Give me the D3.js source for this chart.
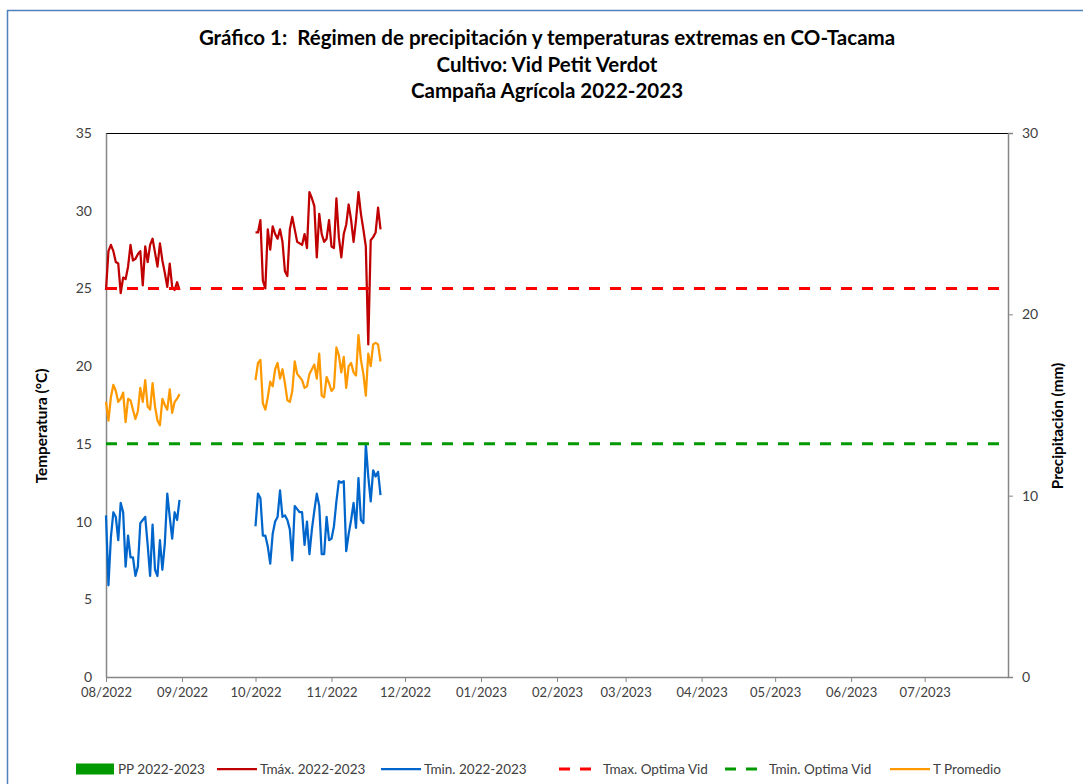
<!DOCTYPE html>
<html>
<head>
<meta charset="utf-8">
<script src="https://cdn.jsdelivr.net/npm/d3@7"></script>
<style>
  html, body { margin: 0; padding: 0; background: #ffffff; }
  svg { display: block; font-family: Lato, "Open Sans", sans-serif; }
  .title { white-space: pre; }
</style>
</head>
<body>
<svg id="chart" width="1083" height="784"></svg>
<script>
// ---------------- DATA ----------------
const chartTitle = [
  "Gráfico 1:  Régimen de precipitación y temperaturas extremas en CO-Tacama",
  "Cultivo: Vid Petit Verdot",
  "Campaña Agrícola 2022-2023"
];
const segmentStarts = ["2022-08-01", "2022-10-01"];

// Daily maximum temperature (°C)
const tmaxSeg1 = [24.9, 27.4, 27.8, 27.4, 26.7, 26.6, 24.7, 25.7, 25.6, 26.4, 27.8, 26.8, 26.9, 27.2, 27.4, 25.2,
  27.7, 26.7, 27.8, 28.2, 27.3, 26.4, 27.9, 26.8, 26.0, 25.1, 26.6, 25.1, 24.9, 25.4, 24.9];
const tmaxSeg2 = [28.6, 28.6, 29.4, 25.5, 25.0, 28.8, 27.5, 29.0, 28.5, 28.2, 28.8, 28.0, 26.1, 25.8, 28.8, 29.6,
  28.8, 28.0, 27.9, 27.8, 28.5, 27.6, 31.2, 30.8, 30.3, 27.0, 29.8, 28.5, 28.0, 28.2, 29.4, 27.7, 27.6, 30.8,
  28.3, 27.0, 28.5, 29.1, 30.4, 29.4, 28.0, 29.4, 31.2, 29.8, 28.8, 27.7, 21.4, 28.1, 28.3, 28.6, 30.2, 28.8];

// Daily minimum temperature (°C)
const tminSeg1 = [10.4, 5.9, 9.0, 10.6, 10.3, 8.8, 11.2, 10.6, 7.1, 9.1, 7.7, 7.7, 6.5, 7.1, 9.9, 10.1,
  10.3, 8.5, 6.5, 9.8, 6.9, 6.5, 8.8, 6.9, 8.6, 11.8, 10.3, 8.9, 10.6, 10.1, 11.4];
const tminSeg2 = [9.7, 11.8, 11.5, 9.1, 9.1, 8.4, 7.3, 9.2, 10.0, 10.3, 12.0, 10.3, 10.4, 10.1, 9.5, 7.5,
  11.0, 10.8, 10.6, 10.6, 8.5, 10.0, 7.9, 9.5, 10.7, 11.8, 11.0, 7.9, 7.9, 10.3, 8.8, 8.9, 9.7, 11.3,
  12.6, 12.5, 12.6, 8.1, 9.2, 10.1, 11.2, 9.6, 12.8, 10.1, 9.9, 15.0, 12.9, 11.3, 13.3, 12.9, 13.2, 11.7];

// Daily mean temperature (°C)
const tmeanSeg1 = [17.7, 16.5, 18.0, 18.8, 18.4, 17.7, 17.9, 18.3, 16.4, 17.9, 17.8, 17.2, 16.6, 17.1, 18.6, 17.7,
  19.1, 17.4, 17.2, 18.9, 17.4, 16.5, 16.2, 17.9, 17.5, 17.2, 18.5, 17.0, 17.7, 17.9, 18.2];
const tmeanSeg2 = [19.1, 20.2, 20.4, 17.6, 17.2, 18.0, 19.0, 18.7, 19.8, 20.2, 19.2, 19.8, 18.9, 17.8, 17.7, 18.4,
  20.3, 19.5, 19.3, 19.1, 18.6, 18.7, 19.5, 19.8, 20.1, 19.2, 20.8, 18.1, 18.0, 19.3, 18.9, 18.4, 18.6, 21.2,
  20.7, 19.6, 20.6, 18.6, 20.0, 20.2, 19.6, 19.4, 22.0, 20.4, 19.5, 18.1, 20.8, 20.0, 21.4, 21.5, 21.4, 20.3];

// Precipitation (mm) – no rainfall recorded in the period shown
const ppValues = [];

const tmaxOptimum = 25;
const tminOptimum = 15;

const xDomain = ["2022-08-01", "2023-08-04"];
const monthTicks = ["2022-08-01", "2022-09-01", "2022-10-01", "2022-11-01", "2022-12-01", "2023-01-01",
  "2023-02-01", "2023-03-01", "2023-04-01", "2023-05-01", "2023-06-01", "2023-07-01"];
const tempTicks = [0, 5, 10, 15, 20, 25, 30, 35];
const ppTicks = [0, 10, 20, 30];

const legendItems = [
  { label: "PP 2022-2023", type: "rect", color: "#009900" },
  { label: "Tmáx. 2022-2023", type: "line", color: "#C00000" },
  { label: "Tmin. 2022-2023", type: "line", color: "#0066CC" },
  { label: "Tmax. Optima Vid", type: "dash", color: "#FF0000" },
  { label: "Tmin. Optima Vid", type: "dash", color: "#009900" },
  { label: "T Promedio", type: "line", color: "#FF9900" }
];

// ---------------- BUILD ----------------
const parse = d3.utcParse("%Y-%m-%d");
function buildSeries(seg1, seg2) {
  const out = [];
  [seg1, seg2].forEach((seg, k) => {
    const start = parse(segmentStarts[k]);
    seg.forEach((v, i) => out.push({ date: d3.utcDay.offset(start, i), value: v }));
    if (k === 0) out.push({ date: d3.utcDay.offset(start, seg.length), value: null });
  });
  return out;
}
const tmaxData = buildSeries(tmaxSeg1, tmaxSeg2);
const tminData = buildSeries(tminSeg1, tminSeg2);
const tmeanData = buildSeries(tmeanSeg1, tmeanSeg2);

const svg = d3.select("#chart");
const plot = { left: 106, right: 1008, top: 133, bottom: 677 };

const x = d3.scaleUtc().domain(xDomain.map(parse)).range([plot.left, plot.right]);
const yT = d3.scaleLinear().domain([0, 35]).range([plot.bottom, plot.top]);
const yP = d3.scaleLinear().domain([0, 30]).range([plot.bottom, plot.top]);

// outer chart border
svg.append("rect").attr("x", 7.5).attr("y", 10.5).attr("width", 1100).attr("height", 800)
  .attr("fill", "none").attr("stroke", "#4F81BD").attr("stroke-width", 1.5);

// title
const title = svg.append("text").attr("class", "title").attr("text-anchor", "middle").attr("font-weight", "bold")
  .attr("font-size", 20.5).attr("fill", "#000");
chartTitle.forEach((t, i) => {
  title.append("tspan").attr("x", 547).attr("y", 45 + i * 26.5).text(t);
});

// top border of plot area
svg.append("line").attr("x1", plot.left).attr("x2", plot.right).attr("y1", plot.top + 0.5).attr("y2", plot.top + 0.5)
  .attr("stroke", "#000").attr("stroke-width", 1);

// left axis
const leftAxis = svg.append("g").attr("transform", `translate(${plot.left},0)`)
  .call(d3.axisLeft(yT).tickValues(tempTicks).tickSize(0).tickPadding(14));
leftAxis.select(".domain").attr("stroke", "#868686").attr("stroke-width", 1.5);
leftAxis.selectAll("text").attr("font-size", 14).attr("fill", "#404040").attr("font-family", "Lato");

// right axis
const rightAxis = svg.append("g").attr("transform", `translate(${plot.right},0)`)
  .call(d3.axisRight(yP).tickValues(ppTicks).tickSize(5).tickPadding(9));
rightAxis.select(".domain").attr("stroke", "#868686").attr("stroke-width", 1.5);
rightAxis.selectAll(".tick line").attr("stroke", "#868686");
rightAxis.selectAll("text").attr("font-size", 14).attr("fill", "#404040").attr("font-family", "Lato");

// bottom axis
const bottomAxis = svg.append("g").attr("transform", `translate(0,${plot.bottom})`)
  .call(d3.axisBottom(x).tickValues(monthTicks.map(parse)).tickFormat(d3.utcFormat("%m/%Y"))
    .tickSize(5).tickSizeOuter(0).tickPadding(6));
bottomAxis.select(".domain").attr("stroke", "#868686").attr("stroke-width", 1.5);
bottomAxis.selectAll(".tick line").attr("stroke", "#868686");
bottomAxis.selectAll("text").attr("font-size", 13).attr("fill", "#404040").attr("font-family", "Lato");

// axis titles
svg.append("text").attr("transform", "translate(47,426) rotate(-90)").attr("text-anchor", "middle")
  .attr("font-weight", "bold").attr("font-size", 15.3).text("Temperatura (°C)");
svg.append("text").attr("transform", "translate(1063,426) rotate(-90)").attr("text-anchor", "middle")
  .attr("font-weight", "bold").attr("font-size", 15.3).text("Precipitación (mm)");

// precipitation bars (none recorded)
svg.append("g").selectAll("rect").data(ppValues).join("rect")
  .attr("x", d => x(parse(d.date)) - 1).attr("width", 2)
  .attr("y", d => yP(d.value)).attr("height", d => yP(0) - yP(d.value)).attr("fill", "#009900");

// series lines
const line = d3.line().defined(d => d.value !== null).x(d => x(d.date)).y(d => yT(d.value));
[[tmaxData, "#C00000"], [tmeanData, "#FF9900"], [tminData, "#0066CC"]].forEach(([data, color]) => {
  svg.append("path").datum(data).attr("d", line).attr("fill", "none").attr("stroke", color)
    .attr("stroke-width", 2.25).attr("stroke-linejoin", "round");
});

// optimum reference lines
[[tmaxOptimum, "#FF0000"], [tminOptimum, "#009900"]].forEach(([v, color]) => {
  svg.append("line").attr("x1", plot.left).attr("x2", plot.right).attr("y1", yT(v)).attr("y2", yT(v))
    .attr("stroke", color).attr("stroke-width", 3).attr("stroke-dasharray", "11,10");
});

// legend
const legendX = [76, 217, 381, 559, 725, 890];
const legendY = 769;
const lg = svg.append("g");
legendItems.forEach((it, i) => {
  const g = lg.append("g").attr("transform", `translate(${legendX[i]},${legendY})`);
  if (it.type === "rect") {
    g.append("rect").attr("x", 0).attr("y", -5.5).attr("width", 38).attr("height", 11).attr("fill", it.color);
    g.append("text").attr("x", 42).attr("y", 0).attr("dy", "0.35em").attr("font-size", 13.5).attr("fill", "#404040").text(it.label);
  } else if (it.type === "line") {
    g.append("line").attr("x1", 0).attr("x2", 40).attr("stroke", it.color).attr("stroke-width", 2.25);
    g.append("text").attr("x", 43).attr("y", 0).attr("dy", "0.35em").attr("font-size", 13.5).attr("fill", "#404040").text(it.label);
  } else {
    g.append("line").attr("x1", 0).attr("x2", 33).attr("stroke", it.color).attr("stroke-width", 3).attr("stroke-dasharray", "11,10");
    g.append("text").attr("x", 44).attr("y", 0).attr("dy", "0.35em").attr("font-size", 13.5).attr("fill", "#404040").text(it.label);
  }
});
</script>
</body>
</html>
